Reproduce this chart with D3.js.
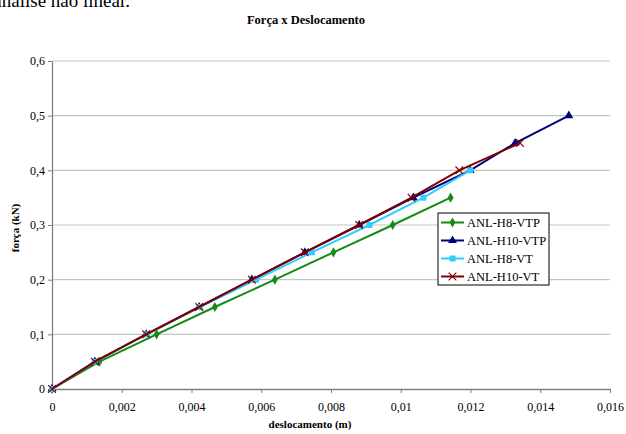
<!DOCTYPE html>
<html><head><meta charset="utf-8">
<script src="https://cdn.jsdelivr.net/npm/d3@7"></script>
<style>body{margin:0;background:#fff}svg{display:block;font-family:"Liberation Serif","Times New Roman",serif}svg text{font-family:"Liberation Serif","Times New Roman",serif !important}</style>
</head><body><svg id="c" width="626" height="434"></svg>
<script>
const forces = [0, 0.05, 0.1, 0.15, 0.2, 0.25, 0.3, 0.35, 0.4, 0.45, 0.5];
const seriesNames = ["ANL-H8-VTP", "ANL-H10-VTP", "ANL-H8-VT", "ANL-H10-VT"];
const dispH8VTP  = [0, 0.00136, 0.0030, 0.00467, 0.00639, 0.00807, 0.00977, 0.01143];
const dispH10VTP = [0, 0.00123, 0.0027, 0.00422, 0.00573, 0.00725, 0.00881, 0.01036, 0.01199, 0.01328, 0.01482];
const dispH8VT   = [0, 0.00123, 0.00272, 0.00424, 0.00585, 0.00745, 0.0091, 0.01065, 0.01199];
const dispH10VT  = [0, 0.00123, 0.0027, 0.00422, 0.00573, 0.00725, 0.00881, 0.01031, 0.01168, 0.01342];
const xTicks = [0, 0.002, 0.004, 0.006, 0.008, 0.01, 0.012, 0.014, 0.016];
const yTicks = [0, 0.1, 0.2, 0.3, 0.4, 0.5, 0.6];
const colors = ["#158a15", "#000080", "#33ccff", "#800000"];
const markers = ["diamond", "triangle", "square", "cross"];

(function () {
const svg = d3.select("#c");
const L = 52, R = 610, T = 61, B = 389;
const x = d3.scaleLinear().domain([0, 0.016]).range([L, R]);
const y = d3.scaleLinear().domain([0, 0.6]).range([B, T]);
const fmt = d => String(+d.toFixed(3)).replace(".", ",");

// page text fragment at top (cut off by the page edge, as in the reference)
const pageTxt = svg.append("text").attr("y", 7).attr("font-size", 19).text("análise não linear.");
const tl = pageTxt.node().getComputedTextLength();
pageTxt.attr("x", 130 - tl);

svg.append("text").attr("x", 306).attr("y", 24).attr("text-anchor", "middle")
  .attr("font-size", 12.5).attr("font-weight", "bold").text("Força x Deslocamento");

// gridlines
svg.append("g").selectAll("line").data(yTicks.filter(d => d > 0)).join("line")
  .attr("x1", L).attr("x2", R).attr("y1", d => y(d)).attr("y2", d => y(d))
  .attr("stroke", "#c4c4c4").attr("stroke-width", 1.2);

// axes
const xa = svg.append("g").attr("transform", `translate(0,${B})`)
  .call(d3.axisBottom(x).tickValues(xTicks).tickFormat(fmt).tickSize(4).tickSizeOuter(0));
const ya = svg.append("g").attr("transform", `translate(${L},0)`)
  .call(d3.axisLeft(y).tickValues(yTicks).tickFormat(fmt).tickSize(4).tickSizeOuter(0));
[xa, ya].forEach(a => {
  a.attr("font-family", null);
  a.select(".domain").attr("stroke", "#808080").attr("stroke-width", 1.3);
  a.selectAll(".tick line").attr("stroke", "#808080");
  a.selectAll("text").attr("font-size", 12).attr("fill", "#000");
});
xa.selectAll("text").attr("dy", null).attr("y", 22);
ya.selectAll("text").attr("x", -7);

svg.append("text").attr("x", 310).attr("y", 428).attr("text-anchor", "middle")
  .attr("font-size", 11).attr("font-weight", "bold").text("deslocamento (m)");
svg.append("text").attr("transform", "translate(19,228) rotate(-90)").attr("text-anchor", "middle")
  .attr("font-size", 11).attr("font-weight", "bold").text("força (kN)");

function drawMarker(g, type, color, cx, cy) {
  if (type === "diamond") {
    g.append("path").attr("d", d3.symbol(d3.symbolDiamond, 30)()).attr("transform", `translate(${cx},${cy})`).attr("fill", color);
  } else if (type === "triangle") {
    g.append("path").attr("d", d3.symbol(d3.symbolTriangle, 34)()).attr("transform", `translate(${cx},${cy})`).attr("fill", color);
  } else if (type === "square") {
    g.append("path").attr("d", d3.symbol(d3.symbolSquare, 36)()).attr("transform", `translate(${cx},${cy})`).attr("fill", color);
  } else {
    g.append("path").attr("d", d3.symbol(d3.symbolX, 40)()).attr("transform", `translate(${cx},${cy})`)
      .attr("fill", "none").attr("stroke", color).attr("stroke-width", 1.2);
  }
}

const allDisp = [dispH8VTP, dispH10VTP, dispH8VT, dispH10VT];
const line = d3.line().x(d => x(d[0])).y(d => y(d[1]));
allDisp.forEach((disp, i) => {
  const pts = disp.map((d, k) => [d, forces[k]]);
  const g = svg.append("g");
  g.append("path").datum(pts).attr("d", line).attr("fill", "none")
    .attr("stroke", colors[i]).attr("stroke-width", 2);
  pts.forEach(p => drawMarker(g, markers[i], colors[i], x(p[0]), y(p[1])));
});

// legend
const lg = svg.append("g");
lg.append("rect").attr("x", 438).attr("y", 213).attr("width", 111).attr("height", 72)
  .attr("fill", "#fff").attr("stroke", "#000").attr("stroke-width", 1);
seriesNames.forEach((n, i) => {
  const cy = 222.5 + i * 18;
  lg.append("line").attr("x1", 441).attr("x2", 464).attr("y1", cy).attr("y2", cy)
    .attr("stroke", colors[i]).attr("stroke-width", 2);
  drawMarker(lg, markers[i], colors[i], 452.5, cy);
  lg.append("text").attr("x", 467).attr("y", cy + 4.5).attr("font-size", 12.5).text(n);
});
})();
</script></body></html>
